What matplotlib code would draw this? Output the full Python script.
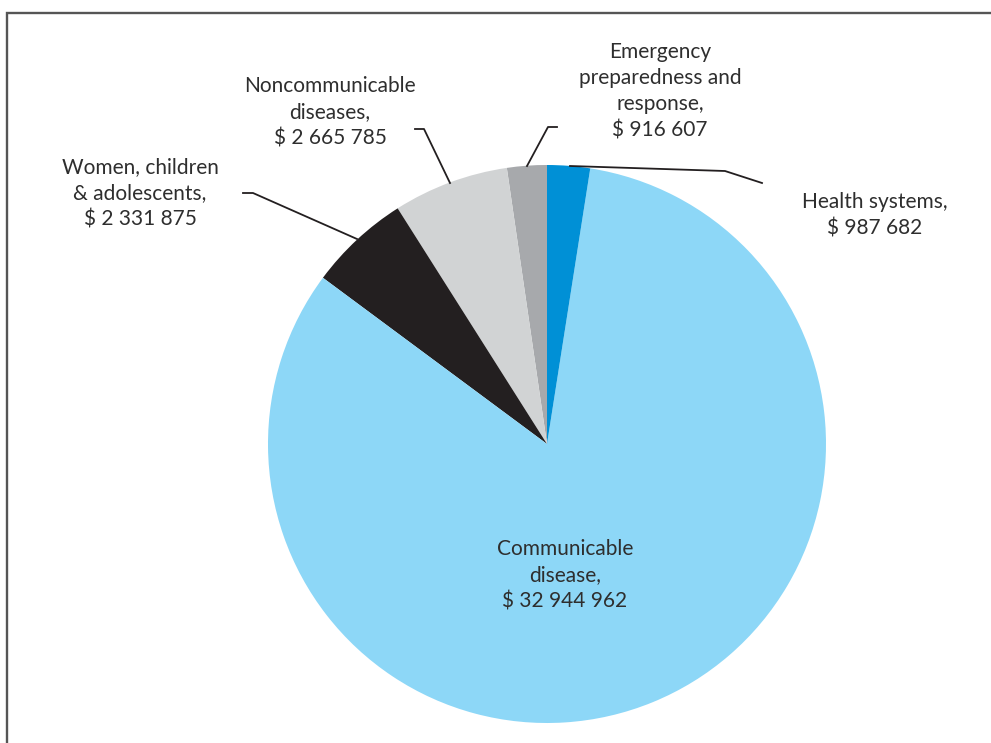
import matplotlib.pyplot as plt

W, H = 991, 743

categories = [
    "Emergency preparedness and response",
    "Noncommunicable diseases",
    "Women, children & adolescents",
    "Communicable disease",
    "Health systems",
]
values = [916607, 2665785, 2331875, 32944962, 987682]
label_texts = [
    "Emergency\npreparedness and\nresponse,\n$ 916 607",
    "Noncommunicable\ndiseases,\n$ 2 665 785",
    "Women, children\n& adolescents,\n$ 2 331 875",
    "Communicable\ndisease,\n$ 32 944 962",
    "Health systems,\n$ 987 682",
]
colors = ["#a7a9ac", "#d1d3d4", "#231f20", "#8dd7f7", "#0090d6"]


def py(y):
    # pixel row (from top) -> data y (from bottom)
    return H - y


def main():
    plt.rcParams["font.family"] = ["Lato", "DejaVu Sans"]
    fig = plt.figure(figsize=(W / 100, H / 100), dpi=100)
    ax = fig.add_axes([0, 0, 1, 1])
    ax.set_xlim(0, W)
    ax.set_ylim(0, H)
    ax.set_aspect("equal")
    ax.axis("off")

    # frame (runs off the right and bottom edges)
    ax.plot([6.5, 6.5, W + 5], [py(H + 5), py(12.5), py(12.5)], color="#555555",
            lw=1.7, solid_joinstyle="miter")

    ax.pie(values, colors=colors, startangle=90, counterclock=True,
           center=(547, py(444)), radius=279,
           wedgeprops=dict(linewidth=0))
    ax.set_xlim(0, W)
    ax.set_ylim(0, H)

    txt = dict(fontsize=15, color="#2e2e2e", ha="center", va="center",
               linespacing=1.38)
    lc = dict(color="#231f20", lw=1.3)

    # leader lines
    ax.plot([527, 548, 557], [py(166), py(127), py(127)], **lc)
    ax.plot([450, 424, 415], [py(183), py(129), py(129)], **lc)
    ax.plot([357, 253, 243], [py(239), py(193), py(193)], **lc)
    ax.plot([570, 725, 762], [py(166), py(171), py(183)], **lc)

    ax.text(660, py(91), label_texts[0], **txt)
    ax.text(330, py(112), label_texts[1], **txt)
    ax.text(140, py(193), label_texts[2], **txt)
    ax.text(565, py(575), label_texts[3], **txt)
    ax.text(875, py(215), label_texts[4], **txt)

    fig.savefig("out.png", dpi=100)


if __name__ == "__main__":
    main()
